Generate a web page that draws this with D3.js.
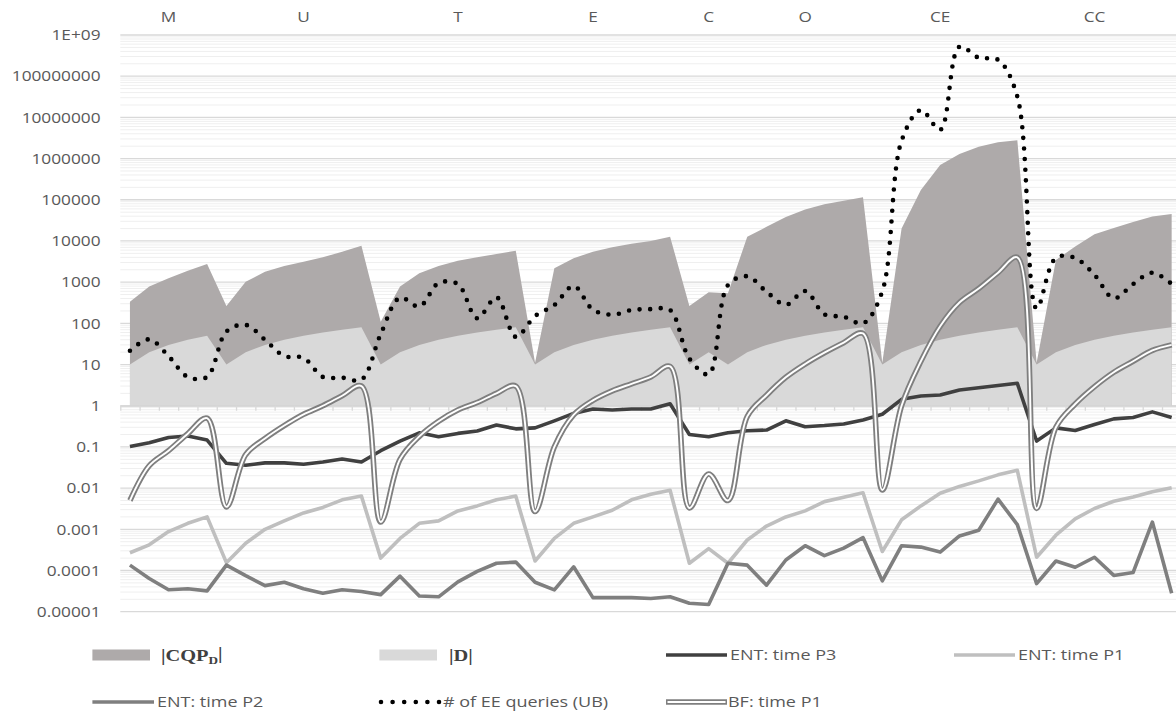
<!DOCTYPE html>
<html>
<head>
<meta charset="utf-8">
<script src="https://cdn.jsdelivr.net/npm/d3@7"></script>
<style>
  body { margin: 0; background: #fff; }
  svg { display: block; }
</style>
</head>
<body>
<svg id="chart" width="1176" height="715"></svg>
<script>
// ---- data -------------------------------------------------------------
const groupNames      = ["M", "U", "T", "E", "C", "O", "CE", "CC"];
const groupSizes      = [5, 8, 8, 8, 2, 8, 8, 8];
const groupLabelIndex = [2, 9, 17, 24, 30, 35, 42, 50];

// |CQP_D|
const cqpD = [
  335, 780, 1240, 1900, 2750,
  265, 1020, 1790, 2470, 3150, 4000, 5500, 7600,
  110, 780, 1650, 2470, 3300, 4000, 4800, 5800,
  11, 2170, 3790, 5500, 7000, 8500, 10000, 12700,
  265, 565,
  540, 12700, 22000, 38000, 58000, 78000, 95000, 115000,
  11, 20000, 173000, 700000, 1300000, 1950000, 2500000, 2800000,
  11, 3450, 7300, 14500, 20500, 29000, 39000, 45000
];

// |D|
const dSize = [
  10, 20, 30, 40, 50,
  10, 20, 30, 40, 50, 60, 70, 80,
  10, 20, 30, 40, 50, 60, 70, 80,
  10, 20, 30, 40, 50, 60, 70, 80,
  10, 20,
  10, 20, 30, 40, 50, 60, 70, 80,
  10, 20, 30, 40, 50, 60, 70, 80,
  10, 20, 30, 40, 50, 60, 70, 80
];

// ENT: time P3
const entP3 = [
  0.102, 0.126, 0.17, 0.184, 0.147,
  0.040, 0.036, 0.041, 0.041, 0.038, 0.043, 0.051, 0.043,
  0.081, 0.138, 0.22, 0.177, 0.213, 0.243, 0.34, 0.275,
  0.29, 0.43, 0.65, 0.83, 0.79, 0.83, 0.83, 1.12,
  0.2, 0.177,
  0.22, 0.247, 0.257, 0.43, 0.31, 0.33, 0.36, 0.45,
  0.62, 1.43, 1.72, 1.82, 2.4, 2.74, 3.1, 3.5,
  0.139, 0.29, 0.25, 0.35, 0.48, 0.52, 0.71, 0.52
];

// ENT: time P1
const entP1 = [
  0.00027, 0.00042, 0.00088, 0.0014, 0.002,
  0.000155, 0.00046, 0.001, 0.0016, 0.0025, 0.0034, 0.0052, 0.0064,
  0.0002, 0.0006, 0.0014, 0.0016, 0.0028, 0.0037, 0.0052, 0.0064,
  0.00017, 0.0006, 0.0014, 0.002, 0.0029, 0.0052, 0.0071, 0.0089,
  0.00015, 0.00034,
  0.00015, 0.00055, 0.0012, 0.002, 0.0028, 0.0047, 0.006, 0.0077,
  0.00029, 0.0017, 0.0037, 0.0075, 0.011, 0.015, 0.021, 0.027,
  0.00021, 0.00072, 0.0018, 0.0032, 0.0048, 0.0061, 0.0082, 0.0102
];

// ENT: time P2
const entP2 = [
  0.000135, 0.000064, 0.000034, 0.000036, 0.000032,
  0.000135, 0.000075, 0.000043, 0.000052, 0.000036, 0.000028, 0.000034, 0.000031,
  0.000026, 0.000073, 0.000024, 0.000023, 0.000053, 0.000095, 0.00015, 0.00016,
  0.000052, 0.000034, 0.000123, 0.000022, 0.000022, 0.000022, 0.000021, 0.000023,
  0.000016, 0.000015,
  0.00015, 0.000135, 0.000044, 0.00018, 0.0004, 0.00023, 0.00035, 0.00063,
  0.000056, 0.0004, 0.00037, 0.00028, 0.00069, 0.00095, 0.0054, 0.0013,
  0.000048, 0.00017, 0.00012, 0.00021, 0.000076, 0.000089, 0.0015, 0.000028
];

// # of EE queries (UB)
const eeQueries = [
  21.6, 41, 16, 5.0, 5.0,
  63, 92, 40, 16, 14.5, 5.0, 4.8, 4.3,
  55, 420, 255, 950, 900, 132, 430, 47,
  150, 278, 810, 214, 162, 210, 221, 210,
  14, 5.8,
  850, 1390, 585, 282, 610, 166, 145, 100,
  600, 2.7e6, 1.5e7, 5e6, 5.2e8, 2.8e8, 2.5e8, 3.2e7,
  230, 3900, 3850, 1500, 405, 900, 1700, 900
];

// BF: time P1
const bfP1 = [
  0.005, 0.035, 0.081, 0.21, 0.5,
  0.0035, 0.065, 0.16, 0.33, 0.62, 1.0, 1.75, 3.0,
  0.0015, 0.05, 0.18, 0.42, 0.79, 1.2, 2.0, 3.0,
  0.0027, 0.1, 0.6, 1.35, 2.3, 3.4, 5.0, 9.0,
  0.0033, 0.022,
  0.005, 0.55, 1.8, 4.9, 10.3, 19.4, 34, 57,
  0.009, 1.0, 12, 85, 320, 700, 1700, 4000,
  0.0032, 0.3, 1.1, 2.9, 6.5, 12, 22, 30
];

const yTickValues = [1e-5, 1e-4, 1e-3, 1e-2, 1e-1, 1, 10, 100, 1e3, 1e4, 1e5, 1e6, 1e7, 1e8, 1e9];
const yTickLabels = ["0.00001", "0.0001", "0.001", "0.01", "0.1", "1", "10", "100",
                     "1000", "10000", "100000", "1000000", "10000000", "100000000", "1E+09"];

// ---- setup ------------------------------------------------------------
const svg = d3.select("#chart");
const nCat = d3.sum(groupSizes);
const categories = d3.range(nCat);

const plotLeft = 120.3, plotRight = 1181.3;
const x = d3.scaleBand().domain(categories).range([plotLeft, plotRight]).padding(0);
const cx = i => x(i) + x.bandwidth() / 2;
const y = d3.scaleLog().domain([1e-5, 1e9]).range([611.7, 35]);

const textColor = "#595959";
const axisFont = "'Open Sans', 'Noto Sans', sans-serif";

// ---- gridlines --------------------------------------------------------
const minorVals = [];
for (let e = -5; e < 9; e++) {
  for (let k = 2; k <= 9; k++) minorVals.push(k * Math.pow(10, e));
}
svg.append("g").selectAll("line").data(minorVals).join("line")
  .attr("x1", plotLeft).attr("x2", plotRight)
  .attr("y1", d => y(d)).attr("y2", d => y(d))
  .attr("stroke", "#efefef").attr("stroke-width", 1);

svg.append("g").selectAll("line").data(yTickValues).join("line")
  .attr("x1", plotLeft).attr("x2", plotRight)
  .attr("y1", d => y(d)).attr("y2", d => y(d))
  .attr("stroke", "#d9d9d9").attr("stroke-width", 1.3);

// ---- areas ------------------------------------------------------------
const area = d3.area().x(d => cx(d.i)).y0(y(1)).y1(d => y(d.v));
const asPts = arr => arr.map((v, i) => ({ i, v }));

svg.append("path").datum(asPts(cqpD)).attr("d", area).attr("fill", "#aeaaaa");
svg.append("path").datum(asPts(dSize)).attr("d", area).attr("fill", "#d9d9d9");

// ---- category axis (crosses at 1) -------------------------------------
const tickScale = d3.scaleLinear().domain([0, nCat]).range([plotLeft, plotRight]);
const xAxis = svg.append("g")
  .attr("transform", `translate(0,${y(1)})`)
  .call(d3.axisBottom(tickScale).tickValues(d3.range(nCat + 1)).tickSize(5)
          .tickSizeOuter(0).tickFormat(""));
xAxis.select(".domain").attr("stroke", "#d9d9d9").attr("stroke-width", 1.3);
xAxis.selectAll(".tick line").attr("stroke", "#d9d9d9").attr("stroke-width", 1.3);

// ---- lines ------------------------------------------------------------
const straight = d3.line().x(d => cx(d.i)).y(d => y(d.v));
const smooth = d3.line().x(d => cx(d.i)).y(d => y(d.v)).curve(d3.curveCatmullRom);

const lineW = 3.6;
svg.append("path").datum(asPts(entP3)).attr("d", straight)
  .attr("fill", "none").attr("stroke", "#404040").attr("stroke-width", lineW)
  .attr("stroke-linejoin", "round");
svg.append("path").datum(asPts(entP1)).attr("d", straight)
  .attr("fill", "none").attr("stroke", "#bfbfbf").attr("stroke-width", lineW)
  .attr("stroke-linejoin", "round");
svg.append("path").datum(asPts(entP2)).attr("d", straight)
  .attr("fill", "none").attr("stroke", "#7f7f7f").attr("stroke-width", lineW)
  .attr("stroke-linejoin", "round");

svg.append("path").datum(asPts(eeQueries)).attr("d", smooth)
  .attr("fill", "none").attr("stroke", "#000").attr("stroke-width", 4.6)
  .attr("stroke-linecap", "round").attr("stroke-dasharray", "0 10.6");

svg.append("path").datum(asPts(bfP1)).attr("d", smooth)
  .attr("fill", "none").attr("stroke", "#7f7f7f").attr("stroke-width", 5.6)
  .attr("stroke-linejoin", "round");
svg.append("path").datum(asPts(bfP1)).attr("d", smooth)
  .attr("fill", "none").attr("stroke", "#ffffff").attr("stroke-width", 1.9)
  .attr("stroke-linejoin", "round");

// ---- y labels ---------------------------------------------------------
const sx = 1.15;
svg.append("g").selectAll("text").data(yTickValues).join("text")
  .attr("transform", d => `translate(100.5,${y(d)}) scale(${sx},1)`)
  .attr("dy", "0.35em")
  .attr("text-anchor", "end")
  .attr("font-family", axisFont).attr("font-size", 15)
  .attr("fill", textColor)
  .text((d, i) => yTickLabels[i]);

// ---- group labels along the top ---------------------------------------
svg.append("g").selectAll("text").data(groupNames).join("text")
  .attr("transform", (d, j) => `translate(${cx(groupLabelIndex[j])},21.5) scale(${sx},1)`)
  .attr("text-anchor", "middle")
  .attr("font-family", axisFont).attr("font-size", 15)
  .attr("fill", textColor)
  .text(d => d);

// ---- legend -----------------------------------------------------------
const lg = svg.append("g");
const lsx = 1.2;
const legendText = (xx, yy, str) => lg.append("text")
  .attr("transform", `translate(${xx},${yy}) scale(${lsx},1)`)
  .attr("dy", "0.35em")
  .attr("font-family", axisFont).attr("font-size", 15)
  .attr("fill", textColor).text(str);

const row1 = 655, row2 = 702;

// |CQP_D|
lg.append("rect").attr("x", 92.4).attr("y", row1 - 5.5).attr("width", 57.6).attr("height", 11)
  .attr("fill", "#aeaaaa");
const cqpLabel = lg.append("text")
  .attr("transform", `translate(161,${row1}) scale(${lsx},1)`)
  .attr("dy", "0.35em")
  .attr("font-family", "'Liberation Serif', 'DejaVu Serif', serif")
  .attr("font-weight", "bold").attr("font-size", 17).attr("fill", "#404040");
cqpLabel.append("tspan").text("|CQP");
cqpLabel.append("tspan").attr("font-size", 11).attr("dy", "0.3em").text("D");
cqpLabel.append("tspan").attr("dy", "-0.3em").text("|");

// |D|
lg.append("rect").attr("x", 379.4).attr("y", row1 - 5.5).attr("width", 57.6).attr("height", 11)
  .attr("fill", "#d9d9d9");
lg.append("text")
  .attr("transform", `translate(449,${row1}) scale(${lsx},1)`)
  .attr("dy", "0.35em")
  .attr("font-family", "'Liberation Serif', 'DejaVu Serif', serif")
  .attr("font-weight", "bold").attr("font-size", 17).attr("fill", "#404040")
  .text("|D|");

// ENT lines
const legendLine = (x1, x2, yy, color) => lg.append("line")
  .attr("x1", x1).attr("x2", x2).attr("y1", yy).attr("y2", yy)
  .attr("stroke", color).attr("stroke-width", lineW);

legendLine(666, 727, row1, "#404040");
legendText(730, row1, "ENT: time P3");
legendLine(954, 1015, row1, "#bfbfbf");
legendText(1018, row1, "ENT: time P1");
legendLine(92.4, 154, row2, "#7f7f7f");
legendText(157, row2, "ENT: time P2");

// EE queries
lg.append("line").attr("x1", 381).attr("x2", 440).attr("y1", row2).attr("y2", row2)
  .attr("stroke", "#000").attr("stroke-width", 4.6)
  .attr("stroke-linecap", "round").attr("stroke-dasharray", "0 11.6");
legendText(443, row2, "# of EE queries (UB)");

// BF double line
lg.append("line").attr("x1", 666).attr("x2", 727).attr("y1", row2).attr("y2", row2)
  .attr("stroke", "#7f7f7f").attr("stroke-width", 5.6);
lg.append("line").attr("x1", 667.5).attr("x2", 725.5).attr("y1", row2).attr("y2", row2)
  .attr("stroke", "#fff").attr("stroke-width", 1.9);
legendText(728, row2, "BF: time P1");
</script>
</body>
</html>
